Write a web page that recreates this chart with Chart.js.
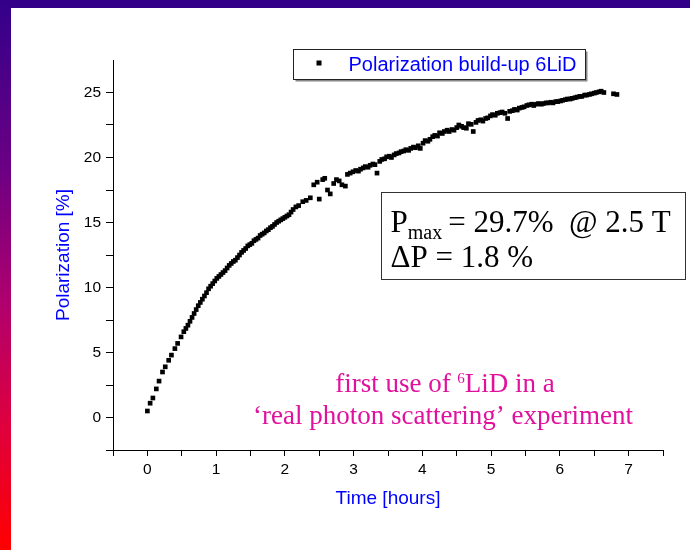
<!DOCTYPE html>
<html>
<head>
<meta charset="utf-8">
<script src="https://cdn.jsdelivr.net/npm/chart.js@4.4.1/dist/chart.umd.min.js"></script>
<style>
	html, body { margin: 0; padding: 0; background: #fff; }
	#slide { position: relative; width: 690px; height: 550px; overflow: hidden; background: #fff; }
	#topBand { position: absolute; left: 0; top: 0; width: 690px; height: 8px; background: #33008a; }
	#leftBar { position: absolute; left: 0; top: 0; width: 11px; height: 550px;
		background: linear-gradient(#33008a 0%, #6a0084 30%, #b0006e 55%, #e0003c 78%, #ff0000 100%); }
	#polChart { position: absolute; left: 0; top: 0; }
</style>
</head>
<body>
<div id="slide">
	<div id="topBand"></div>
	<div id="leftBar"></div>
	<canvas id="polChart" width="690" height="550"></canvas>
</div>
<script>
// Measured points (time in hours, polarization in %)
const timeHours = [
	0.00, 0.04, 0.08, 0.13, 0.17, 0.22, 0.26, 0.31, 0.35, 0.40,
	0.44, 0.49, 0.53, 0.56, 0.59, 0.62,
	0.65, 0.68, 0.71, 0.74, 0.77, 0.80, 0.83, 0.86, 0.89, 0.92,
	0.95, 0.98, 1.01, 1.04, 1.07, 1.10, 1.13, 1.16, 1.19, 1.22,
	1.25, 1.28, 1.31, 1.34, 1.37, 1.40, 1.43, 1.46, 1.49, 1.52,
	1.55, 1.58, 1.61, 1.64, 1.67, 1.70, 1.73, 1.76, 1.79, 1.82,
	1.85, 1.88, 1.91, 1.94, 1.97, 2.00, 2.03, 2.06, 2.09, 2.12,
	2.16, 2.20,
	2.26, 2.31, 2.37, 2.42, 2.47, 2.50, 2.55, 2.58, 2.62, 2.66,
	2.71, 2.75, 2.79, 2.83, 2.88, 2.91, 2.95, 2.99,
	3.03, 3.07, 3.10, 3.14, 3.17, 3.21, 3.24, 3.28, 3.31, 3.34,
	3.38, 3.41, 3.45, 3.48, 3.52, 3.55, 3.59, 3.62, 3.66, 3.69,
	3.73, 3.76, 3.80, 3.83, 3.87, 3.90, 3.94, 3.97, 4.01, 4.04,
	4.08, 4.11, 4.15, 4.18, 4.22, 4.25, 4.29, 4.32, 4.36, 4.39,
	4.43, 4.46, 4.50, 4.53, 4.57, 4.60, 4.64, 4.67, 4.71, 4.74,
	4.78, 4.81, 4.85, 4.88, 4.92, 4.95, 4.99, 5.02, 5.06, 5.09,
	5.13, 5.16, 5.20, 5.24, 5.27, 5.31, 5.34, 5.38, 5.41, 5.45,
	5.48, 5.52, 5.55, 5.59, 5.62, 5.66, 5.69, 5.73, 5.76, 5.80,
	5.83, 5.87, 5.90, 5.94, 5.97, 6.01, 6.04, 6.08, 6.11, 6.15,
	6.18, 6.22, 6.25, 6.29, 6.32, 6.36, 6.39, 6.43, 6.46, 6.50,
	6.53, 6.57, 6.60, 6.64, 6.78, 6.83
];
const polarization = [
	0.5, 1.1, 1.5, 2.2, 2.8, 3.5, 3.9, 4.4, 4.8, 5.3,
	5.7, 6.2, 6.6, 6.85, 7.1, 7.4,
	7.7, 8.0, 8.3, 8.6, 8.85, 9.1, 9.35, 9.6, 9.9, 10.1,
	10.3, 10.5, 10.7, 10.85, 11.0, 11.15, 11.3, 11.5, 11.7, 11.85,
	12.0, 12.1, 12.3, 12.5, 12.7, 12.85, 13.0, 13.2, 13.3, 13.4,
	13.6, 13.7, 13.8, 14.0, 14.1, 14.2, 14.35, 14.45, 14.6, 14.7,
	14.85, 15.0, 15.1, 15.2, 15.3, 15.4, 15.5, 15.6, 15.8, 16.0,
	16.2, 16.3,
	16.6, 16.7, 16.9, 17.9, 18.1, 16.8, 18.3, 18.4, 17.5, 17.2,
	18.0, 18.3, 18.2, 17.9, 17.8, 18.7, 18.8, 18.9,
	19.0, 18.95, 19.1, 19.2, 19.3, 19.25, 19.4, 19.5, 19.45, 18.8,
	19.7, 19.85, 19.9, 20.05, 20.1, 20.0, 20.2, 20.3, 20.35, 20.45,
	20.5, 20.6, 20.55, 20.7, 20.8, 20.75, 20.9, 20.7, 21.1, 21.3,
	21.25, 21.4, 21.6, 21.7, 21.65, 21.9, 21.85, 22.0, 22.1, 22.0,
	22.15, 22.1, 22.3, 22.5, 22.4, 22.3, 22.25, 22.6, 22.55, 22.0,
	22.7, 22.85, 22.9, 22.8, 23.0, 23.05, 23.2, 23.3, 23.25, 23.4,
	23.45, 23.5, 23.4, 23.0, 23.55, 23.6, 23.7, 23.65, 23.8, 23.85,
	23.9, 24.0, 24.05, 24.1, 24.0, 24.1, 24.15, 24.1, 24.15, 24.2,
	24.2, 24.25, 24.2, 24.3, 24.3, 24.35, 24.4, 24.45, 24.5, 24.5,
	24.55, 24.6, 24.65, 24.7, 24.7, 24.8, 24.8, 24.85, 24.9, 24.95,
	25.0, 25.05, 25.1, 25.0, 24.9, 24.85
];

// Labelled ticks
const xTickLabels = [0, 1, 2, 3, 4, 5, 6, 7];
const yTickLabels = [0, 5, 10, 15, 20, 25];

const seriesLabel = 'Polarization build-up 6LiD';
const infoLines = ['= 29.7%  @ 2.5 T', '\u0394P = 1.8 %'];
const noteLines = ['first use of ', '6', 'LiD in a', '\u2018real photon scattering\u2019 experiment'];

const sansFont = "'Liberation Sans', Arial, sans-serif";
const serifFont = "'Liberation Serif', 'Times New Roman', serif";

// Draws the framed legend, the result box and the pink note
const slideTextPlugin = {
	id: 'slideText',
	afterDraw(chart) {
		const ctx = chart.ctx;
		const area = chart.chartArea;
		ctx.save();

		// legend box with shadow
		const lx = area.left + 180.5, ly = area.top - 10.5, lw = 292, lh = 30;
		ctx.fillStyle = '#888';
		ctx.fillRect(lx + 2, ly + 2, lw, lh);
		ctx.fillStyle = '#fff';
		ctx.fillRect(lx, ly, lw, lh);
		ctx.strokeStyle = '#222';
		ctx.lineWidth = 1;
		ctx.strokeRect(lx, ly, lw, lh);
		ctx.fillStyle = '#000';
		ctx.fillRect(lx + 23, ly + 11, 5, 5);
		ctx.fillStyle = '#0000ff';
		ctx.font = '20px ' + sansFont;
		ctx.textBaseline = 'alphabetic';
		ctx.textAlign = 'left';
		ctx.fillText(chart.data.datasets[0].label, lx + 55, ly + 21);

		// result box
		const bx = 381.5, by = 192.5, bw = 304, bh = 87;
		ctx.fillStyle = '#fff';
		ctx.fillRect(bx, by, bw, bh);
		ctx.strokeStyle = '#333';
		ctx.strokeRect(bx, by, bw, bh);
		ctx.fillStyle = '#000';
		ctx.font = '31px ' + serifFont;
		ctx.fillText('P', bx + 9, by + 39);
		let px = bx + 9 + ctx.measureText('P').width;
		ctx.font = '20px ' + serifFont;
		ctx.fillText('max', px, by + 46);
		px += ctx.measureText('max').width + 6;
		ctx.font = '31px ' + serifFont;
		ctx.fillText(infoLines[0], px, by + 39);
		ctx.fillText(infoLines[1], bx + 9, by + 74);

		// pink note, centred lines
		ctx.fillStyle = '#e0119d';
		const bigFont = '27px ' + serifFont, supFont = '15px ' + serifFont;
		ctx.font = bigFont;
		const w1 = ctx.measureText(noteLines[0]).width;
		const w3 = ctx.measureText(noteLines[2]).width;
		ctx.font = supFont;
		const w2 = ctx.measureText(noteLines[1]).width;
		let nx = 445 - (w1 + w2 + w3) / 2;
		const ny1 = 392, ny2 = 424;
		ctx.font = bigFont;
		ctx.fillText(noteLines[0], nx, ny1);
		nx += w1;
		ctx.font = supFont;
		ctx.fillText(noteLines[1], nx, ny1 - 9);
		nx += w2;
		ctx.font = bigFont;
		ctx.fillText(noteLines[2], nx, ny1);
		ctx.textAlign = 'center';
		ctx.fillText(noteLines[3], 443, ny2);

		ctx.restore();
	}
};

document.addEventListener('DOMContentLoaded', function() {
	const ctx = document.getElementById('polChart').getContext('2d');
	window.myChart = new Chart(ctx, {
		type: 'scatter',
		data: {
			datasets: [{
				label: seriesLabel,
				data: timeHours.map((t, i) => ({ x: t, y: polarization[i] })),
				pointStyle: 'rect',
				pointRadius: 3.3,
				pointBorderWidth: 0,
				backgroundColor: '#000',
				borderColor: '#000',
				showLine: false
			}]
		},
		options: {
			responsive: false,
			animation: false,
			devicePixelRatio: 1,
			events: [],
			layout: { padding: { left: 0, top: 60, right: 27, bottom: 0 } },
			plugins: {
				legend: { display: false },
				tooltip: { enabled: false }
			},
			scales: {
				x: {
					type: 'linear',
					min: -0.5,
					max: 7.5,
					afterFit: s => { s.height = 100; },
					border: { color: '#000', width: 1 },
					grid: { drawOnChartArea: false, drawTicks: true, tickLength: 6, color: '#000' },
					ticks: {
						stepSize: 0.5,
						autoSkip: false,
						maxRotation: 0,
						padding: 4,
						color: '#000',
						font: { family: sansFont, size: 15.5 },
						callback: v => xTickLabels.includes(v) ? String(v) : ''
					},
					title: {
						display: true,
						text: 'Time [hours]',
						color: '#0000ff',
						font: { family: sansFont, size: 19 },
						padding: { top: 0, bottom: 40 }
					}
				},
				y: {
					type: 'linear',
					min: -2.5,
					max: 27.5,
					afterFit: s => { s.width = 113; },
					border: { color: '#000', width: 1 },
					grid: { drawOnChartArea: false, drawTicks: true, tickLength: 7, color: '#000' },
					ticks: {
						stepSize: 2.5,
						autoSkip: false,
						padding: 5,
						color: '#000',
						font: { family: sansFont, size: 15.5 },
						// no tick mark at the very top of the axis
						callback: v => v >= 27.5 ? null : (yTickLabels.includes(v) ? String(v) : '')
					},
					title: {
						display: true,
						text: 'Polarization [%]',
						color: '#0000ff',
						font: { family: sansFont, size: 19 },
						padding: { top: 52, bottom: 0 }
					}
				}
			}
		},
		plugins: [slideTextPlugin]
	});
});
</script>
</body>
</html>
